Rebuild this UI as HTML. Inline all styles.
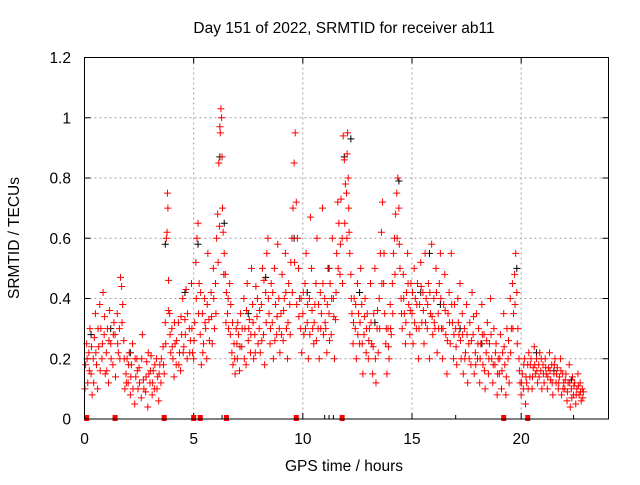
<!DOCTYPE html>
<html><head><meta charset="utf-8"><style>
body{margin:0;background:#fff}
svg text{font-family:"Liberation Sans",sans-serif;fill:#000}
</style></head><body>
<svg id="chart" width="640" height="480" xmlns="http://www.w3.org/2000/svg">
<text x="344" y="33" font-size="15.5" text-anchor="middle">Day 151 of 2022, SRMTID for receiver ab11</text>
<text x="344" y="471" font-size="15.5" text-anchor="middle">GPS time / hours</text>
<text transform="translate(19,238) rotate(-90)" font-size="15.5" text-anchor="middle">SRMTID / TECUs</text>
<g id="grid"></g><g id="axes"></g><g id="marks"></g>
<rect x="84.5" y="57.5" width="524" height="361.5" fill="none" stroke="#000" stroke-width="1"/>
</svg>
<script>
const xTicks=[0,5,10,15,20];
const yTicks=[0,0.2,0.4,0.6,0.8,1,1.2];
const yTickLabels=["0","0.2","0.4","0.6","0.8","1","1.2"];
const redPoints=[[0.05,.18],[0.1,.25],[0.15,.12],[0.2,.22],[0.25,.3],[0.3,.15],[0.35,.08],[0.4,.2],[0.45,.27],[0.5,.35],[0.55,.18],[0.6,.1],[0.65,.24],[0.7,.38],[0.75,.3],[0.8,.2],[0.85,.42],[0.9,.28],[0.95,.15],
[1.0,.22],[1.05,.3],[1.1,.12],[1.15,.36],[1.2,.25],[1.3,.18],[1.35,.32],[1.4,.28],[1.5,.35],[1.55,.22],[1.6,.3],[1.65,.47],[1.7,.44],[1.75,.38],[1.8,.26],[1.85,.1],[1.9,.15],[1.95,.2],
[2.0,.12],[2.05,.22],[2.1,.08],[2.15,.18],[2.2,.25],[2.3,.05],[2.35,.14],[2.4,.2],[2.45,.1],[2.5,.17],[2.6,.07],[2.65,.28],[2.7,.13],[2.8,.09],[2.85,.19],[2.9,.04],[2.95,.15],
[3.0,.12],[3.05,.21],[3.1,.08],[3.15,.16],[3.2,.1],[3.3,.2],[3.35,.14],[3.4,.06],[3.45,.18],[3.5,.12],[3.6,.24],[3.65,.15],[3.7,.32],[3.75,.6],[3.78,.62],[3.8,.75],[3.82,.7],[3.85,.46],[3.9,.35],[3.95,.22],
[4.0,.3],[4.05,.2],[4.1,.14],[4.15,.25],[4.2,.18],[4.3,.32],[4.35,.22],[4.4,.16],[4.45,.28],[4.5,.4],[4.55,.24],[4.6,.33],[4.65,.43],[4.7,.2],[4.8,.3],[4.85,.26],[4.9,.45],[4.95,.22],
[5.0,.2],[5.05,.32],[5.1,.52],[5.15,.6],[5.2,.65],[5.25,.45],[5.3,.28],[5.35,.18],[5.4,.35],[5.45,.25],[5.5,.4],[5.55,.3],[5.6,.2],[5.65,.55],[5.7,.33],[5.8,.42],[5.85,.25],[5.9,.5],[5.95,.3],
[6.0,.45],[6.05,.6],[6.1,.68],[6.15,.85],[6.2,.97],[6.22,.95],[6.25,1.03],[6.28,1.0],[6.3,.87],[6.32,.7],[6.35,.62],[6.4,.55],[6.45,.48],[6.5,.42],[6.55,.35],[6.6,.3],[6.65,.45],[6.7,.38],[6.75,.22],[6.8,.18],[6.85,.25],[6.9,.15],[6.95,.3],
[7.0,.2],[7.05,.28],[7.1,.16],[7.15,.35],[7.2,.24],[7.3,.4],[7.35,.3],[7.4,.18],[7.45,.45],[7.5,.26],[7.55,.33],[7.6,.22],[7.65,.5],[7.7,.38],[7.75,.2],[7.8,.28],[7.85,.44],[7.9,.34],[7.95,.25],
[8.0,.3],[8.05,.22],[8.1,.38],[8.15,.5],[8.2,.28],[8.25,.18],[8.3,.42],[8.35,.55],[8.4,.6],[8.45,.35],[8.5,.25],[8.55,.45],[8.6,.32],[8.65,.2],[8.7,.5],[8.75,.38],[8.8,.28],[8.85,.58],[8.9,.4],[8.95,.22],
[9.0,.35],[9.05,.48],[9.1,.26],[9.15,.4],[9.2,.55],[9.25,.3],[9.3,.2],[9.35,.45],[9.4,.38],[9.45,.52],[9.5,.6],[9.55,.7],[9.6,.85],[9.65,.95],[9.7,.72],[9.75,.6],[9.8,.5],[9.85,.4],[9.9,.3],[9.95,.22],
[10.0,.35],[10.05,.28],[10.1,.45],[10.15,.55],[10.2,.32],[10.25,.2],[10.3,.4],[10.35,.67],[10.4,.5],[10.45,.3],[10.5,.25],[10.55,.38],[10.6,.45],[10.65,.6],[10.7,.3],[10.75,.2],[10.8,.42],[10.85,.35],[10.9,.7],[10.95,.28],
[11.0,.4],[11.05,.3],[11.1,.22],[11.15,.5],[11.2,.35],[11.25,.45],[11.3,.28],[11.35,.6],[11.4,.4],[11.45,.2],[11.5,.33],[11.55,.55],[11.6,.72],[11.65,.65],[11.7,.48],[11.75,.73],[11.8,.6],[11.85,.94],[11.9,.86],[11.95,.78],
[12.0,.75],[12.03,.88],[12.05,.95],[12.08,.8],[12.1,.7],[12.15,.55],[12.2,.48],[12.25,.35],[12.3,.25],[12.35,.4],[12.4,.3],[12.45,.2],[12.5,.45],[12.55,.35],[12.6,.25],[12.65,.5],[12.7,.38],[12.75,.15],[12.8,.28],[12.85,.4],[12.9,.22],[12.95,.35],
[13.0,.2],[13.05,.3],[13.1,.45],[13.15,.25],[13.2,.15],[13.25,.35],[13.3,.5],[13.35,.12],[13.4,.3],[13.45,.22],[13.5,.4],[13.55,.55],[13.6,.62],[13.65,.72],[13.7,.45],[13.75,.35],[13.8,.25],[13.85,.15],[13.9,.3],[13.95,.2],
[14.0,.38],[14.05,.28],[14.1,.45],[14.15,.55],[14.2,.6],[14.25,.68],[14.3,.75],[14.35,.8],[14.4,.7],[14.45,.5],[14.5,.4],[14.55,.3],[14.6,.48],[14.65,.35],[14.7,.25],[14.75,.42],[14.8,.55],[14.85,.38],[14.9,.28],[14.95,.45],
[15.0,.35],[15.05,.25],[15.1,.5],[15.15,.4],[15.2,.3],[15.25,.45],[15.3,.2],[15.35,.38],[15.4,.52],[15.45,.32],[15.5,.42],[15.55,.25],[15.6,.55],[15.65,.4],[15.7,.3],[15.75,.45],[15.8,.2],[15.85,.35],[15.9,.58],[15.95,.28],
[16.0,.4],[16.05,.3],[16.1,.5],[16.15,.22],[16.2,.35],[16.25,.45],[16.3,.55],[16.35,.3],[16.4,.2],[16.45,.38],[16.5,.48],[16.55,.28],[16.6,.15],[16.65,.35],[16.7,.42],[16.75,.25],[16.8,.55],[16.85,.32],[16.9,.2],[16.95,.38],
[17.0,.3],[17.05,.18],[17.1,.4],[17.15,.28],[17.2,.45],[17.25,.2],[17.3,.35],[17.35,.15],[17.4,.3],[17.45,.22],[17.5,.38],[17.55,.12],[17.6,.25],[17.65,.32],[17.7,.18],[17.75,.42],[17.8,.28],[17.85,.15],[17.9,.22],[17.95,.35],
[18.0,.2],[18.05,.3],[18.1,.12],[18.15,.25],[18.2,.38],[18.25,.18],[18.3,.28],[18.35,.1],[18.4,.22],[18.45,.32],[18.5,.15],[18.55,.25],[18.6,.4],[18.65,.2],[18.7,.12],[18.75,.3],[18.8,.18],[18.85,.25],[18.9,.08],[18.95,.2],
[19.0,.15],[19.05,.28],[19.1,.1],[19.15,.22],[19.2,.35],[19.25,.18],[19.3,.08],[19.35,.3],[19.4,.2],[19.45,.12],[19.5,.4],[19.55,.3],[19.6,.45],[19.65,.35],[19.7,.48],[19.75,.55],[19.8,.42],[19.85,.3],[19.9,.2],[19.95,.12],
[20.0,.08],[20.05,.15],[20.1,.1],[20.15,.2],[20.2,.05],[20.25,.12],[20.3,.18],[20.35,.22],[20.4,.14],[20.45,.2],[20.5,.1],[20.55,.17],[20.6,.24],[20.65,.15],[20.7,.2],[20.75,.12],[20.8,.18],[20.85,.22],[20.9,.16],[20.95,.1],
[21.0,.18],[21.05,.12],[21.1,.2],[21.15,.15],[21.2,.1],[21.25,.17],[21.3,.22],[21.35,.13],[21.4,.18],[21.45,.08],[21.5,.15],[21.55,.2],[21.6,.12],[21.65,.17],[21.7,.1],[21.75,.14],[21.8,.2],[21.85,.08],[21.9,.15],[21.95,.12],
[22.0,.1],[22.05,.15],[22.1,.06],[22.15,.12],[22.2,.18],[22.25,.04],[22.3,.1],[22.35,.14],[22.4,.08],[22.45,.12],[22.5,.05],[22.55,.1],[22.6,.15],[22.65,.08],[22.7,.12],[22.75,.06],[22.8,.1],[22.85,.09]];
const redPoints2=[[0.02,.1],[0.12,.2],[0.22,.16],[0.32,.24],[0.42,.12],[0.52,.22],[0.62,.3],[0.72,.16],[0.82,.25],[0.92,.34],
[1.02,.16],[1.12,.26],[1.22,.2],[1.32,.28],[1.42,.14],[1.52,.25],[1.62,.2],[1.72,.32],[1.82,.2],[1.92,.12],
[2.02,.18],[2.12,.14],[2.22,.1],[2.32,.2],[2.42,.16],[2.52,.12],[2.62,.2],[2.72,.1],[2.82,.14],[2.92,.22],
[3.02,.16],[3.12,.12],[3.22,.18],[3.32,.1],[3.42,.15],[3.52,.2],[3.62,.18],[3.72,.25],[3.84,.36],[3.92,.28],
[4.02,.24],[4.12,.32],[4.22,.26],[4.32,.18],[4.42,.34],[4.52,.22],[4.62,.28],[4.72,.35],[4.82,.22],[4.92,.3],
[5.02,.26],[5.12,.4],[5.22,.35],[5.32,.42],[5.42,.22],[5.52,.32],[5.62,.38],[5.72,.26],[5.82,.34],[5.92,.4],
[6.02,.35],[6.12,.52],[6.18,.64],[6.38,.48],[6.48,.32],[6.58,.4],[6.68,.28],[6.78,.32],[6.88,.2],[6.98,.25],
[7.02,.32],[7.12,.24],[7.22,.3],[7.32,.2],[7.42,.36],[7.52,.3],[7.62,.28],[7.72,.32],[7.82,.22],[7.92,.4],
[8.02,.36],[8.12,.26],[8.22,.46],[8.32,.32],[8.42,.4],[8.52,.3],[8.62,.42],[8.72,.26],[8.82,.34],[8.92,.3],
[9.02,.28],[9.12,.36],[9.22,.42],[9.32,.32],[9.42,.28],[9.52,.42],[9.62,.52],[9.72,.38],[9.82,.34],[9.92,.4],
[10.02,.42],[10.12,.3],[10.22,.38],[10.32,.28],[10.42,.36],[10.52,.32],[10.62,.26],[10.72,.38],[10.82,.3],[10.92,.45],
[11.02,.32],[11.12,.38],[11.22,.26],[11.32,.4],[11.42,.34],[11.52,.42],[11.62,.5],[11.72,.58],[11.82,.45],[11.92,.65],
[12.02,.6],[12.12,.62],[12.22,.4],[12.32,.32],[12.42,.38],[12.52,.28],[12.62,.32],[12.72,.25],[12.82,.34],[12.92,.3],
[13.02,.26],[13.12,.32],[13.22,.24],[13.32,.2],[13.42,.36],[13.52,.3],[13.62,.45],[13.72,.55],[13.82,.3],[13.92,.24],
[14.02,.3],[14.12,.35],[14.22,.48],[14.32,.6],[14.42,.58],[14.52,.35],[14.62,.4],[14.72,.32],[14.82,.45],[14.92,.36],
[15.02,.42],[15.12,.32],[15.22,.38],[15.32,.3],[15.42,.44],[15.52,.36],[15.62,.32],[15.72,.38],[15.82,.42],[15.92,.34],
[16.02,.32],[16.12,.42],[16.22,.3],[16.32,.4],[16.42,.3],[16.52,.36],[16.62,.26],[16.72,.32],[16.82,.38],[16.92,.28],
[17.02,.24],[17.12,.32],[17.22,.26],[17.32,.28],[17.42,.2],[17.52,.28],[17.62,.2],[17.72,.26],[17.82,.34],[17.92,.18],
[18.02,.25],[18.12,.2],[18.22,.28],[18.32,.16],[18.42,.26],[18.52,.2],[18.62,.28],[18.72,.18],[18.82,.22],[18.92,.15],
[19.02,.2],[19.12,.16],[19.22,.24],[19.32,.14],[19.42,.26],[19.52,.22],[19.62,.3],[19.72,.38],[19.82,.25],[19.92,.16],
[20.02,.12],[20.12,.18],[20.22,.14],[20.32,.1],[20.42,.18],[20.52,.14],[20.62,.18],[20.72,.16],[20.82,.14],[20.92,.2],
[21.02,.15],[21.12,.17],[21.22,.14],[21.32,.16],[21.42,.12],[21.52,.18],[21.62,.15],[21.72,.12],[21.82,.16],[21.92,.1],
[22.02,.13],[22.12,.09],[22.22,.12],[22.32,.07],[22.42,.11],[22.52,.08],[22.62,.11],[22.72,.09],[22.82,.07]];
const blackPoints=[[0.3,.28],[1.2,.3],[2.1,.22],[3.7,.58],[4.6,.42],[5.2,.58],[6.2,.87],[6.4,.65],[7.5,.35],[8.3,.47],[9.6,.6],[10.2,.42],[11.2,.5],[11.9,.87],[12.2,.93],[12.6,.42],[13.3,.32],[14.4,.79],[15.4,.42],[15.8,.55],[16.3,.38],[17.2,.3],[18.2,.25],[19.8,.5],[20.7,.22],[21.5,.16],[22.3,.13]];
const redBaseMarks=[0.1,1.4,3.65,5.0,5.3,6.5,9.7,11.8,19.2,20.3];
const blackBaseMarks=[6.3,11.0,11.2,11.4,17.0,22.4];
const NS='http://www.w3.org/2000/svg';
const X0=84.5,X1=608.5,Y0=419,Y1=57.5,XMAX=24,YMAX=1.2;
function sx(t){return X0+(X1-X0)*t/XMAX;}
function sy(v){return Y0-(Y0-Y1)*v/YMAX;}
const grid=document.getElementById('grid'),axes=document.getElementById('axes'),marks=document.getElementById('marks');
function mk(tag,attrs,parent){const e=document.createElementNS(NS,tag);for(const k in attrs)e.setAttribute(k,attrs[k]);parent.appendChild(e);return e;}
xTicks.forEach(t=>{
 const x=sx(t);
 if(t>0){const g=mk('line',{x1:x,x2:x,y1:Y1,y2:Y0,stroke:'#a0a0a0','stroke-dasharray':'2,3'},grid);
 
 }
 mk('line',{x1:x,x2:x,y1:Y0,y2:Y0-6,stroke:'#000'},axes);
 mk('line',{x1:x,x2:x,y1:Y1,y2:Y1+6,stroke:'#000'},axes);
 const l=mk('text',{x:x,y:444,'font-size':'15.5','text-anchor':'middle'},axes);l.textContent=String(t);
 
 
});
yTicks.forEach((v,i)=>{
 const y=sy(v);
 if(v>0&&v<YMAX){const g=mk('line',{x1:X0,x2:X1,y1:y,y2:y,stroke:'#a0a0a0','stroke-dasharray':'2,3'},grid);
 
 }
 mk('line',{x1:X0,x2:X0+6,y1:y,y2:y,stroke:'#000'},axes);
 mk('line',{x1:X1-6,x2:X1,y1:y,y2:y,stroke:'#000'},axes);
 const l=mk('text',{x:71,y:y+5.5,'font-size':'15.5','text-anchor':'end'},axes);l.textContent=yTickLabels[i];
 
 
});
function plus(pts,color,name){
 let d='';pts.forEach(p=>{const x=sx(p[0]),y=sy(p[1]);d+=`M${x-3.5},${y}h7M${x},${y-3.5}v7`;});
 const e=mk('path',{d:d,stroke:color,'stroke-width':'1',fill:'none'},marks);
 
 
}
plus(blackPoints,'#000','black-series-points');
plus(redPoints,'#ff0000','red-series-points');
plus(redPoints2,'#ff0000','red-series-points-2');
redBaseMarks.forEach(t=>{const r=mk('rect',{x:sx(t)-2.5,y:Y0-4,width:5,height:6,fill:'#ff0000'},marks);
 
 });
blackBaseMarks.forEach(t=>{const r=mk('line',{x1:sx(t),x2:sx(t),y1:Y0-4,y2:Y0,stroke:'#000'},marks);
 
 });
</script>
</body></html>
